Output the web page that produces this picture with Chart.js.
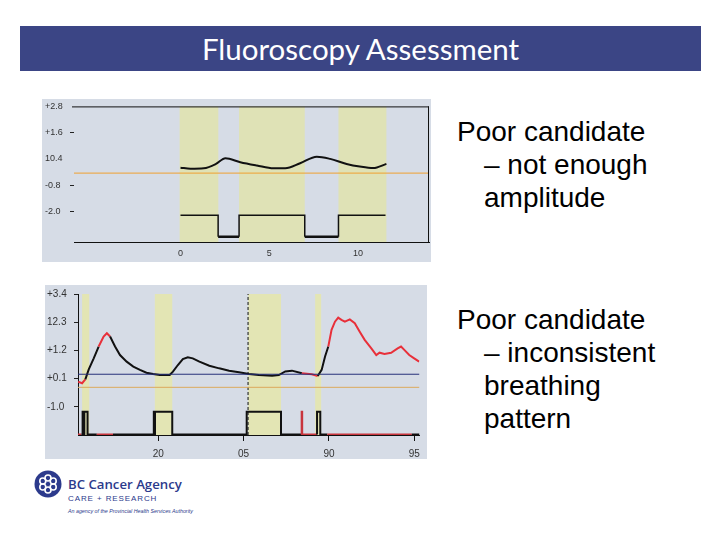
<!DOCTYPE html>
<html>
<head>
<meta charset="utf-8">
<script src="https://cdn.jsdelivr.net/npm/chart.js@4.4.0/dist/chart.umd.min.js"></script>
<style>
  body { margin: 0; width: 720px; height: 540px; background: #fff; position: relative; overflow: hidden; font-family: "Liberation Sans", Arial, sans-serif; }
  .title { position: absolute; left: 20px; top: 26px; width: 681px; height: 45px; background: #3b4585; color: #fff;
           font-family: Lato, "Open Sans", sans-serif; font-size: 29.5px; line-height: 45px; text-align: center; }
  canvas { position: absolute; background: #d6dce6; }
  #chart1 { left: 42px; top: 99px; }
  #chart2 { left: 45px; top: 285px; }
  .note { position: absolute; left: 457px; font-size: 28px; line-height: 33px; color: #000; }
  .note .ind { padding-left: 27px; }
  .logo { position: absolute; left: 34px; top: 470px; }
  .logo .name { position: absolute; left: 34px; top: 5px; white-space: nowrap; color: #2c3a8c; font-family: "Open Sans", sans-serif; font-size: 13.2px; font-weight: 600; }
  .logo .sub { position: absolute; left: 34px; top: 24px; white-space: nowrap; color: #2c3a8c; font-size: 8px; letter-spacing: 0.9px; }
  .logo .tiny { position: absolute; left: 34px; top: 38px; white-space: nowrap; color: #2c3a8c; font-size: 5.3px; font-style: italic; }
</style>
</head>
<body>
<div class="title">Fluoroscopy Assessment</div>
<canvas id="chart1" width="389" height="163"></canvas>
<canvas id="chart2" width="382" height="174"></canvas>
<div class="note" style="top:115px">Poor candidate<div class="ind">– not enough</div><div class="ind">amplitude</div></div>
<div class="note" style="top:303px">Poor candidate<div class="ind">– inconsistent</div><div class="ind">breathing</div><div class="ind">pattern</div></div>
<div class="logo">
  <svg width="28" height="28" viewBox="0 0 28 28">
    <circle cx="14" cy="14" r="13.5" fill="#2c3a8c"/>
    <g fill="none" stroke="#fff" stroke-width="1.6">
      <circle cx="14" cy="8" r="3"/><circle cx="19.2" cy="11" r="3"/><circle cx="19.2" cy="17" r="3"/>
      <circle cx="14" cy="20" r="3"/><circle cx="8.8" cy="17" r="3"/><circle cx="8.8" cy="11" r="3"/>
    </g>
  </svg>
  <div class="name">BC Cancer Agency</div>
  <div class="sub">CARE + RESEARCH</div>
  <div class="tiny">An agency of the Provincial Health Services Authority</div>
</div>
<script>
// chart 1 - poor amplitude
const x1Curve = [0, 0.56, 1.31, 2.0, 2.53, 3.37, 4.3, 5.24, 5.9, 6.74, 7.68, 8.43, 9.36, 10.1, 10.86, 11.6];
const y1Curve = [0.0, -0.05, -0.03, 0.17, 0.43, 0.25, 0.1, -0.03, -0.03, 0.2, 0.5, 0.4, 0.17, 0.05, -0.02, 0.17];
const x1Gate = [0, 2.12, 2.12, 3.3, 3.3, 7.0, 7.0, 8.9, 8.9, 11.55];
const y1Gate = [-2.18, -2.18, -3.16, -3.16, -2.18, -2.18, -3.16, -3.16, -2.18, -2.18];
const y1Base = -0.25;
const bands1 = [[-0.05, 2.13], [3.3, 7.0], [8.9, 11.6]];
const y1Ticks = [2.8, 1.6, 0.4, -0.8, -2.0];
const y1Labels = ['+2.8', '+1.6', '10.4', '-0.8', '-2.0'];
const x1Ticks = [0, 5, 10];
const x1Labels = ['0', '5', '10'];

// chart 2 - inconsistent breathing
const x2Curve = [75.31, 75.54, 75.73, 75.93, 76.22, 76.51, 76.80, 76.99, 77.18, 77.47, 77.76, 78.15, 78.54, 78.93, 79.31,
  79.70, 80.09, 80.67, 80.86, 81.15, 81.44, 81.73, 82.02, 82.41, 82.99, 83.57, 84.15, 84.73, 85.31, 85.89,
  86.67, 87.06, 87.44, 87.83, 88.41, 88.99, 89.34, 89.57, 89.77, 89.96, 90.15, 90.35, 90.54, 90.73, 90.93,
  91.22, 91.51, 91.80, 92.09, 92.48, 92.77, 92.96, 93.25, 93.64, 94.02, 94.22, 94.41, 94.70, 94.99, 95.28];
const y2Curve = [-0.02, -0.08, 0.07, 0.46, 0.89, 1.35, 1.74, 1.87, 1.74, 1.35, 1.02, 0.76, 0.57, 0.44, 0.33,
  0.28, 0.24, 0.24, 0.37, 0.63, 0.86, 0.93, 0.89, 0.76, 0.60, 0.50, 0.41, 0.35, 0.28, 0.24,
  0.21, 0.24, 0.38, 0.41, 0.31, 0.27, 0.20, 0.44, 0.96, 1.35, 2.00, 2.32, 2.48, 2.39, 2.32,
  2.41, 2.26, 1.93, 1.61, 1.28, 1.02, 1.11, 1.06, 1.11, 1.28, 1.35, 1.22, 1.02, 0.89, 0.76];
const x2Gate = [75.2, 75.5, 75.57, 75.57, 75.63, 75.63, 75.67, 75.67, 75.86, 75.86, 76.4, 77.35, 79.74, 79.74, 79.79,
  79.79, 79.81, 79.81, 80.82, 80.82, 85.18, 85.18, 87.19, 87.19, 88.4, 88.4, 88.43, 88.43, 89.3, 89.3,
  89.49, 89.49, 89.9, 94.85, 95.3];
const y2Gate = [-2.08, -2.08, -2.08, -1.19, -1.19, -2.08, -2.08, -1.19, -1.19, -2.08, -2.08, -2.08, -2.08, -1.19, -1.19,
  -2.08, -2.08, -1.19, -1.19, -2.08, -2.08, -1.19, -1.19, -2.08, -2.08, -1.19, -1.19, -2.08, -2.08, -1.19,
  -1.19, -2.08, -2.08, -2.08, -2.08];
const curveRed2 = [[75.2, 75.68], [76.5, 77.28], [88.41, 89.34], [89.96, 95.4]];
const gateRed2 = [[75.2, 75.5], [76.4, 77.35], [88.38, 89.28], [89.9, 94.85]];
const y2Ref = 0.27;
const y2Base = -0.24;
const x2Mark = 85.26;
const bands2 = [[75.54, 75.96], [79.8, 80.82], [85.27, 87.19], [89.19, 89.54]];
const y2Ticks = [3.4, 2.3, 1.2, 0.1, -1.0];
const y2Labels = ['+3.4', '12.3', '+1.2', '+0.1', '-1.0'];
const x2Ticks = [80, 85, 90, 95];
const x2Labels = ['20', '05', '90', '95'];

const pts = (xs, ys) => xs.map((x, i) => ({x: x, y: ys[i]}));
const inSpan = (spans, v) => spans.some(s => v >= s[0] && v <= s[1]);
const mid = ctx => (ctx.p0.parsed.x + ctx.p1.parsed.x) / 2;

const bandsPlugin = {
  id: 'bands',
  beforeDatasetsDraw(chart, args, opts) {
    const {ctx, chartArea: a, scales: {x}} = chart;
    ctx.save();
    ctx.fillStyle = opts.color;
    opts.spans.forEach(s => {
      const x0 = Math.max(x.getPixelForValue(s[0]), a.left);
      const x1 = Math.min(x.getPixelForValue(s[1]), a.right);
      ctx.fillRect(x0, a.top, x1 - x0, a.bottom - a.top);
    });
    ctx.restore();
  },
  afterDraw(chart, args, opts) {
    const {ctx, chartArea: a} = chart;
    ctx.save();
    ctx.strokeStyle = '#111';
    ctx.lineWidth = 1;
    ctx.beginPath();
    if (opts.frame.includes('top')) { ctx.moveTo(a.left - 2, a.top + 0.5); ctx.lineTo(a.right, a.top + 0.5); }
    if (opts.frame.includes('right')) { ctx.moveTo(a.right - 0.5, a.top); ctx.lineTo(a.right - 0.5, a.bottom); }
    ctx.stroke();
    ctx.restore();
  }
};

function axes(o) {
  const font = {family: 'Liberation Sans', size: o.fontSize};
  return {
    x: {
      type: 'linear', min: o.xMin, max: o.xMax,
      afterFit: s => { s.height = o.xH; },
      afterBuildTicks: s => { s.ticks = o.xTicks.map(v => ({value: v})); },
      ticks: {color: '#333', font: font, padding: o.xPad, maxRotation: 0, callback: (v, i) => o.xLabels[i]},
      grid: {drawOnChartArea: false, drawTicks: o.xTickLen > 0, tickLength: o.xTickLen, color: '#111'},
      border: {display: true, color: '#111', width: 1}
    },
    y: {
      type: 'linear', min: o.yMin, max: o.yMax,
      afterFit: s => { s.width = o.yW; },
      afterBuildTicks: s => { s.ticks = o.yTicks.map(v => ({value: v})); },
      ticks: {color: '#333', font: font, crossAlign: 'far', padding: 2, callback: (v, i) => o.yLabels[i]},
      grid: {drawOnChartArea: false, tickLength: 4, color: c => o.yDash.includes(c.index) ? '#222' : 'rgba(0,0,0,0)'},
      border: {display: o.yBorder, color: '#111', width: 1}
    }
  };
}

new Chart(document.getElementById('chart1'), {
  type: 'scatter',
  data: {
    datasets: [
      {data: pts([-6, 14], [y1Base, y1Base]), showLine: true, borderColor: '#f0a030', borderWidth: 1, pointRadius: 0},
      {data: pts(x1Curve, y1Curve), showLine: true, borderColor: '#111', borderWidth: 2, pointRadius: 0, cubicInterpolationMode: 'monotone'},
      {data: pts(x1Gate, y1Gate), showLine: true, borderColor: '#111', borderWidth: 1.5, pointRadius: 0,
       segment: {borderWidth: c => (c.p0.parsed.y === -3.16 && c.p1.parsed.y === -3.16) ? 2.5 : 1.5}}
    ]
  },
  options: {
    responsive: false, animation: false,
    layout: {padding: {left: 3, top: 5, right: 2, bottom: 0}},
    plugins: {legend: {display: false}, tooltip: {enabled: false},
      bands: {spans: bands1, color: '#dfe2b6', frame: ['top', 'right']}},
    scales: axes({xMin: -6, xMax: 14, xH: 20, xTicks: x1Ticks, xLabels: x1Labels, xPad: 6, xTickLen: 0,
      yMin: -3.4, yMax: 2.8, yW: 29, yTicks: y1Ticks, yLabels: y1Labels, yDash: [1, 3, 4], yBorder: false, fontSize: 9})
  },
  plugins: [bandsPlugin]
});

new Chart(document.getElementById('chart2'), {
  type: 'scatter',
  data: {
    datasets: [
      {data: pts([75.3, 95.3], [y2Base, y2Base]), showLine: true, borderColor: '#dcaa5c', borderWidth: 1, pointRadius: 0},
      {data: pts([75.3, 95.3], [y2Ref, y2Ref]), showLine: true, borderColor: '#26307a', borderWidth: 1, pointRadius: 0},
      {data: pts([x2Mark, x2Mark], [-2.1, 3.4]), showLine: true, borderColor: '#111', borderWidth: 1, borderDash: [3, 2], pointRadius: 0},
      {data: pts(x2Curve, y2Curve), showLine: true, borderColor: '#111', borderWidth: 2, pointRadius: 0,
       segment: {borderColor: c => inSpan(curveRed2, mid(c)) ? '#e8303a' : '#111'}},
      {data: pts(x2Gate, y2Gate), showLine: true, borderColor: '#111', borderWidth: 2, pointRadius: 0,
       segment: {borderColor: c => inSpan(gateRed2, mid(c)) ? '#c8343c' : '#111'}}
    ]
  },
  options: {
    responsive: false, animation: false,
    layout: {padding: {left: 2, top: 9, right: 5, bottom: 0}},
    plugins: {legend: {display: false}, tooltip: {enabled: false},
      bands: {spans: bands2, color: '#e3e5b4', frame: []}},
    scales: axes({xMin: 75.3, xMax: 95.3, xH: 24, xTicks: x2Ticks, xLabels: x2Labels, xPad: 7, xTickLen: 6,
      yMin: -2.1, yMax: 3.4, yW: 31, yTicks: y2Ticks, yLabels: y2Labels, yDash: [0, 1, 2, 3, 4], yBorder: true, fontSize: 10})
  },
  plugins: [bandsPlugin]
});
</script>
</body>
</html>
